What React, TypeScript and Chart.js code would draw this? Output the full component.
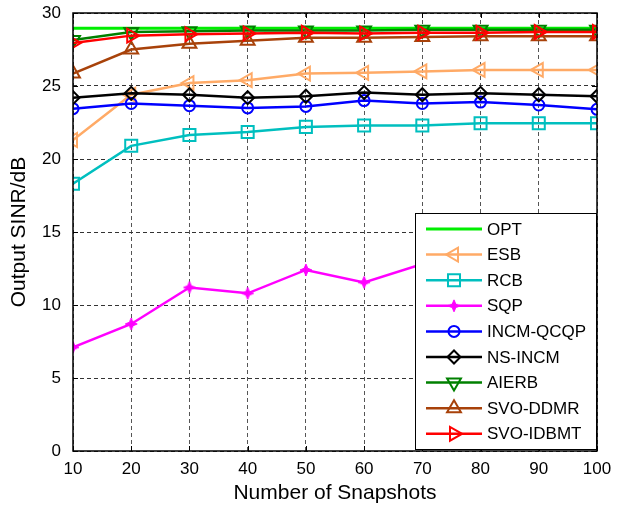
import React, { useEffect, useRef } from "react";
import { Chart, registerables } from "chart.js";
import { drawPoint } from "chart.js/helpers";

Chart.register(...registerables);

const snapshots = [10, 20, 30, 40, 50, 60, 70, 80, 90, 100];
const OPT = [28.95, 28.95, 28.95, 28.95, 28.95, 28.95, 28.95, 28.95, 28.95, 28.95];
const ESB = [21.3, 24.4, 25.2, 25.4, 25.85, 25.9, 26.0, 26.1, 26.1, 26.1];
const RCB = [18.3, 20.9, 21.65, 21.85, 22.2, 22.3, 22.3, 22.45, 22.45, 22.45];
const SQP = [7.1, 8.7, 11.2, 10.8, 12.4, 11.55, 12.8, 12.6, 12.9, 13.0];
const INCM_QCQP = [23.45, 23.8, 23.65, 23.5, 23.6, 24.0, 23.8, 23.9, 23.7, 23.4];
const NS_INCM = [24.2, 24.5, 24.4, 24.2, 24.3, 24.55, 24.4, 24.5, 24.4, 24.3];
const AIERB = [28.15, 28.7, 28.75, 28.8, 28.8, 28.8, 28.85, 28.85, 28.85, 28.85];
const SVO_DDMR = [25.85, 27.5, 27.9, 28.1, 28.3, 28.3, 28.35, 28.4, 28.4, 28.4];
const SVO_IDBMT = [27.95, 28.45, 28.55, 28.6, 28.65, 28.6, 28.65, 28.65, 28.7, 28.7];

const xTicks = [10, 20, 30, 40, 50, 60, 70, 80, 90, 100];
const yTicks = [0, 5, 10, 15, 20, 25, 30];

const FONT = "'Liberation Sans', Arial, Helvetica, sans-serif";

function makeHexagram(color: string, r: number): HTMLCanvasElement {
  const c = document.createElement("canvas");
  const s = Math.ceil(r * 2 + 2);
  c.width = s;
  c.height = s;
  const ctx = c.getContext("2d")!;
  ctx.fillStyle = color;
  ctx.strokeStyle = color;
  ctx.lineWidth = 1;
  const cx = s / 2, cy = s / 2;
  ctx.beginPath();
  for (let i = 0; i < 8; i++) {
    const a = (Math.PI / 4) * i - Math.PI / 2;
    const rr = i % 2 === 0 ? r : r * 0.42;
    const px = cx + Math.cos(a) * rr;
    const py = cy + Math.sin(a) * rr;
    if (i === 0) ctx.moveTo(px, py);
    else ctx.lineTo(px, py);
  }
  ctx.closePath();
  ctx.fill();
  ctx.stroke();
  return c;
}

type SeriesDef = {
  label: string;
  data: number[];
  color: string;
  style: any;
  rotation: number;
  radius: number;
  width: number;
};

export default function App() {
  const ref = useRef<HTMLCanvasElement | null>(null);

  useEffect(() => {
    document.body.style.margin = "0";
    const star = makeHexagram("#ff00ff", 6);
    const series: SeriesDef[] = [
      { label: "OPT", data: OPT, color: "#00ee00", style: false, rotation: 0, radius: 0, width: 3 },
      { label: "ESB", data: ESB, color: "#ffaa66", style: "triangle", rotation: -90, radius: 8, width: 2.5 },
      { label: "RCB", data: RCB, color: "#00bfbf", style: "rect", rotation: 0, radius: 8.5, width: 2.5 },
      { label: "SQP", data: SQP, color: "#ff00ff", style: star, rotation: 0, radius: 6, width: 2.5 },
      { label: "INCM-QCQP", data: INCM_QCQP, color: "#0000ff", style: "circle", rotation: 0, radius: 5.5, width: 2.5 },
      { label: "NS-INCM", data: NS_INCM, color: "#000000", style: "rectRot", rotation: 0, radius: 6.5, width: 2.5 },
      { label: "AIERB", data: AIERB, color: "#008000", style: "triangle", rotation: 180, radius: 8, width: 2.5 },
      { label: "SVO-DDMR", data: SVO_DDMR, color: "#a8420a", style: "triangle", rotation: 0, radius: 8, width: 2.5 },
      { label: "SVO-IDBMT", data: SVO_IDBMT, color: "#ff0000", style: "triangle", rotation: 90, radius: 8, width: 2.5 },
    ];

    const datasets = series.map((s, i) => ({
      label: s.label,
      data: snapshots.map((x, j) => ({ x, y: s.data[j] })),
      borderColor: s.color,
      backgroundColor: "rgba(0,0,0,0)",
      borderWidth: s.width,
      pointStyle: s.style,
      pointRotation: s.rotation,
      pointRadius: s.radius,
      pointBorderWidth: 2,
      pointBorderColor: s.color,
      pointBackgroundColor: "rgba(0,0,0,0)",
      tension: 0,
      order: series.length - i,
    }));

    const framePlugin = {
      id: "frameAndLegend",
      afterDatasetsDraw(chart: any) {
        const { ctx, chartArea } = chart;
        const { left, right, top, bottom } = chartArea;
        const xs = chart.scales.x;
        const ys = chart.scales.y;
        ctx.save();
        // inward ticks
        ctx.strokeStyle = "#000";
        ctx.lineWidth = 1;
        ctx.beginPath();
        xTicks.forEach((v) => {
          const px = Math.round(xs.getPixelForValue(v)) + 0.5;
          ctx.moveTo(px, bottom);
          ctx.lineTo(px, bottom - 5);
          ctx.moveTo(px, top);
          ctx.lineTo(px, top + 5);
        });
        yTicks.forEach((v) => {
          const py = Math.round(ys.getPixelForValue(v)) + 0.5;
          ctx.moveTo(left, py);
          ctx.lineTo(left + 5, py);
          ctx.moveTo(right, py);
          ctx.lineTo(right - 5, py);
        });
        ctx.stroke();

        // legend
        const lx0 = 415, ly0 = 213, lx1 = 597, ly1 = 450;
        ctx.fillStyle = "#fff";
        ctx.fillRect(lx0, ly0, lx1 - lx0, ly1 - ly0);
        ctx.strokeStyle = "#000";
        ctx.lineWidth = 1;
        ctx.strokeRect(lx0 + 0.5, ly0 + 0.5, lx1 - lx0 - 1, ly1 - ly0 - 1);
        ctx.font = `17px ${FONT}`;
        ctx.textBaseline = "middle";
        ctx.textAlign = "left";
        series.forEach((s, i) => {
          const cy = 229 + i * 25.6;
          ctx.strokeStyle = s.color;
          ctx.lineWidth = s.width;
          ctx.beginPath();
          ctx.moveTo(426, cy);
          ctx.lineTo(482, cy);
          ctx.stroke();
          if (s.style) {
            ctx.fillStyle = "rgba(0,0,0,0)";
            ctx.strokeStyle = s.color;
            ctx.lineWidth = 2;
            drawPoint(ctx, { pointStyle: s.style, rotation: s.rotation, radius: s.radius, borderWidth: 2 } as any, 454, cy);
          }
          ctx.fillStyle = "#000";
          ctx.fillText(s.label, 487, cy + 1);
        });

        // frame
        ctx.strokeStyle = "#000";
        ctx.lineWidth = 1.5;
        ctx.strokeRect(left, top, right - left, bottom - top);
        ctx.restore();
      },
    };

    const chart = new Chart(ref.current!, {
      type: "line",
      data: { datasets },
      options: {
        responsive: false,
        animation: false,
        devicePixelRatio: 1,
        layout: { padding: { left: 0, right: 20, top: 13, bottom: 0 } },
        plugins: { legend: { display: false }, tooltip: { enabled: false } },
        scales: {
          x: {
            type: "linear",
            min: 10,
            max: 100,
            afterFit: (s: any) => { s.height = 60; s.paddingLeft = 0; s.paddingRight = 0; },
            afterBuildTicks: (s: any) => { s.ticks = xTicks.map((v) => ({ value: v })); },
            ticks: { color: "#000", font: { family: FONT, size: 17 }, padding: 8, maxRotation: 0, autoSkip: false },
            grid: { color: "#555", lineWidth: 1, drawTicks: false },
            border: { display: false, dash: [4, 3] },
            title: { display: true, text: "Number of Snapshots", color: "#000", font: { family: FONT, size: 21 }, padding: { top: 0, bottom: 5 } },
          },
          y: {
            type: "linear",
            min: 0,
            max: 30,
            afterFit: (s: any) => { s.width = 73; s.paddingTop = 0; s.paddingBottom = 0; },
            afterBuildTicks: (s: any) => { s.ticks = yTicks.map((v) => ({ value: v })); },
            ticks: { color: "#000", font: { family: FONT, size: 17 }, padding: 12 },
            grid: { color: "#333", lineWidth: 1, drawTicks: false },
            border: { display: false, dash: [4, 3] },
            title: { display: true, text: "Output SINR/dB", color: "#000", font: { family: FONT, size: 21 }, padding: { top: 7, bottom: 0 } },
          },
        },
      },
      plugins: [framePlugin],
    } as any);
    return () => chart.destroy();
  }, []);

  return (
    <div style={{ width: 617, height: 511 }}>
      <canvas ref={ref} width={617} height={511} style={{ display: "block" }} />
    </div>
  );
}
